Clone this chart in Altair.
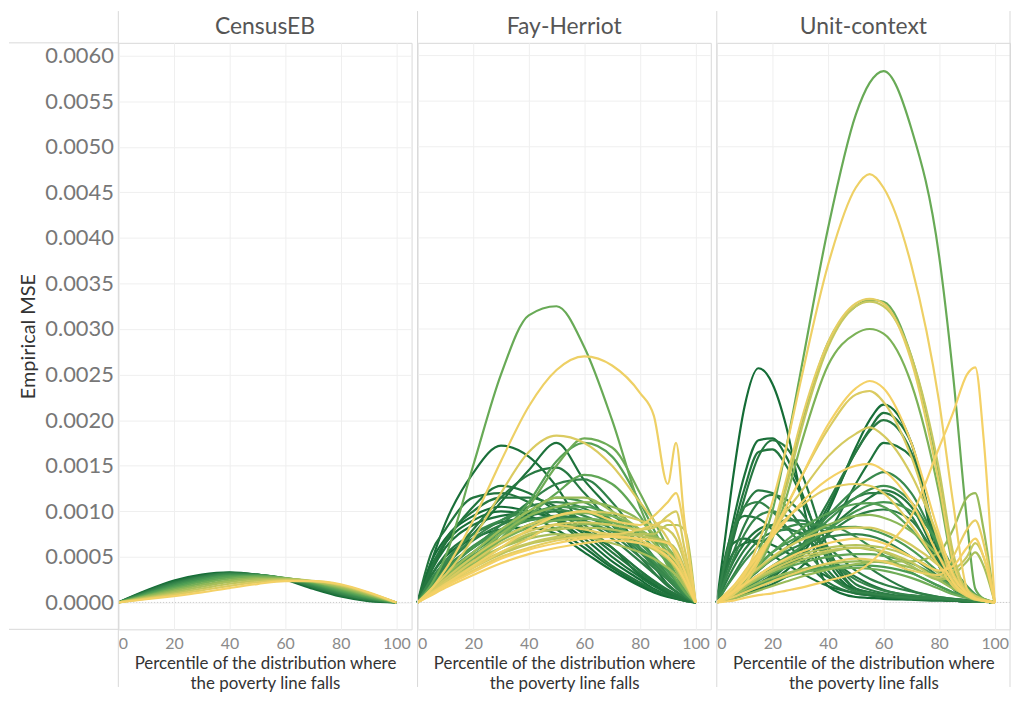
import altair as alt
import pandas as pd

PANELS = ["CensusEB", "Fay-Herriot", "Unit-context"]
X_TITLE = ["Percentile of the distribution where", "the poverty line falls"]
Y_TITLE = "Empirical MSE"
Y_TICKS = [0.0, 0.0005, 0.001, 0.0015, 0.002, 0.0025, 0.003, 0.0035, 0.004, 0.0045, 0.005, 0.0055, 0.006]
X_TICKS = [0, 20, 40, 60, 80, 100]

# ---- CensusEB (values in units of 1e-4) ----
X_CEB = [0, 10, 20, 30, 40, 50, 60, 70, 80, 90, 100]
CEB_SHADE = [1.00, 0.92, 0.83, 0.75, 0.67, 0.58, 0.50, 0.42, 0.33, 0.25, 0.17, 0.08, 0.00]
CEB_MSE = [
    [0, 1.30, 2.40, 3.05, 3.30, 3.05, 2.50, 1.50, 0.65, 0.15, 0],
    [0, 1.22, 2.28, 2.95, 3.25, 3.05, 2.55, 1.62, 0.78, 0.22, 0],
    [0, 1.14, 2.15, 2.85, 3.18, 3.05, 2.60, 1.74, 0.90, 0.30, 0],
    [0, 1.06, 2.02, 2.72, 3.10, 3.03, 2.63, 1.86, 1.02, 0.38, 0],
    [0, 0.98, 1.88, 2.58, 3.00, 3.00, 2.66, 1.97, 1.14, 0.46, 0],
    [0, 0.90, 1.74, 2.43, 2.88, 2.95, 2.68, 2.07, 1.26, 0.55, 0],
    [0, 0.82, 1.60, 2.27, 2.75, 2.88, 2.68, 2.15, 1.38, 0.64, 0],
    [0, 0.74, 1.46, 2.10, 2.60, 2.80, 2.67, 2.22, 1.50, 0.73, 0],
    [0, 0.66, 1.31, 1.92, 2.43, 2.68, 2.63, 2.28, 1.62, 0.82, 0],
    [0, 0.58, 1.16, 1.73, 2.25, 2.55, 2.58, 2.32, 1.73, 0.91, 0],
    [0, 0.50, 1.01, 1.53, 2.05, 2.40, 2.50, 2.35, 1.83, 1.00, 0],
    [0, 0.42, 0.85, 1.32, 1.82, 2.22, 2.42, 2.36, 1.92, 1.06, 0],
    [0, 0.35, 0.70, 1.10, 1.58, 2.02, 2.35, 2.35, 2.00, 1.12, 0],
]

# ---- Fay-Herriot (values in units of 1e-4) ----
X_FH = [0, 5, 10, 20, 30, 40, 50, 60, 70, 80, 85, 90, 93, 96, 100]
FH_SHADE = [1.00, 1.00, 0.97, 0.95, 0.95, 0.93, 0.92, 0.90, 0.88, 0.85, 0.82, 0.80,
            0.75, 0.70, 0.65, 0.60, 0.55, 0.50, 0.47, 0.45, 0.40, 0.35, 0.30, 0.25,
            0.20, 0.15, 0.10, 0.08, 0.05, 0.05, 0.02, 0.02, 0.00, 0.00,
            0.98, 0.90, 0.78, 0.68, 0.58, 0.42, 0.32, 0.18, 0.12]
FH_MSE = [
    [0, 4.5, 7.0, 9.5, 10.5, 10.0, 9.0, 7.0, 4.5, 2.5, 1.5, 0.8, 0.5, 0.3, 0],
    [0, 3.0, 5.0, 7.0, 8.0, 8.2, 7.5, 5.5, 3.5, 1.8, 1.1, 0.6, 0.4, 0.2, 0],
    [0, 4.5, 8.7, 14.2, 17.2, 16.0, 12.7, 8.0, 6.0, 3.0, 2.0, 1.0, 0.6, 0.3, 0],
    [0, 2.5, 4.5, 7.5, 11.0, 14.5, 17.5, 13.4, 10.0, 6.0, 4.0, 2.0, 1.2, 0.5, 0],
    [0, 3.5, 6.0, 8.5, 9.5, 9.8, 9.2, 7.5, 5.0, 2.8, 1.8, 1.0, 0.6, 0.3, 0],
    [0, 3.5, 6.5, 10.5, 12.8, 12.0, 10.0, 8.0, 6.0, 3.5, 2.3, 1.2, 0.7, 0.3, 0],
    [0, 5.5, 8.0, 11.5, 12.0, 11.0, 9.0, 6.5, 4.0, 2.2, 1.4, 0.8, 0.5, 0.2, 0],
    [0, 3.0, 5.2, 7.5, 8.8, 9.2, 9.0, 7.8, 5.5, 3.2, 2.2, 1.3, 0.8, 0.4, 0],
    [0, 2.5, 4.5, 8.0, 11.5, 14.0, 14.8, 12.0, 8.5, 5.0, 3.3, 1.8, 1.2, 0.6, 0],
    [0, 2.2, 4.0, 6.8, 8.5, 9.5, 10.0, 9.0, 7.0, 4.5, 3.2, 2.0, 1.2, 0.6, 0],
    [0, 2.0, 3.5, 6.0, 8.5, 11.0, 13.0, 13.5, 11.0, 7.0, 5.0, 3.0, 2.0, 1.0, 0],
    [0, 2.0, 3.8, 6.0, 7.8, 9.0, 9.5, 9.0, 7.5, 5.0, 3.8, 2.5, 1.6, 0.8, 0],
    [0, 2.6, 4.5, 7.5, 9.0, 10.0, 10.2, 9.5, 8.0, 5.5, 4.0, 2.6, 1.7, 0.8, 0],
    [0, 1.8, 3.2, 5.5, 7.5, 9.5, 10.5, 10.0, 8.5, 6.0, 4.5, 3.0, 2.0, 1.0, 0],
    [0, 1.8, 3.5, 6.0, 8.0, 10.0, 11.5, 11.0, 9.0, 6.5, 5.0, 3.5, 2.3, 1.2, 0],
    [0, 1.5, 3.0, 5.2, 7.0, 8.5, 9.0, 9.2, 8.5, 6.5, 5.0, 3.5, 2.4, 1.2, 0],
    [0, 1.0, 2.0, 4.5, 7.5, 11.0, 15.5, 17.5, 16.0, 11.0, 8.0, 5.0, 3.0, 1.5, 0],
    [0, 1.2, 2.4, 4.5, 7.0, 9.5, 12.0, 14.0, 13.0, 9.5, 7.0, 4.5, 3.0, 1.5, 0],
    [0, 2.0, 5.0, 15.0, 25.0, 31.5, 32.5, 28.0, 20.0, 10.5, 7.0, 4.0, 2.5, 1.2, 0],
    [0, 1.0, 2.0, 4.0, 7.0, 10.5, 15.0, 18.0, 17.0, 12.0, 9.0, 6.0, 4.0, 2.0, 0],
    [0, 1.4, 2.8, 5.0, 7.0, 8.5, 9.5, 9.8, 9.5, 8.0, 7.0, 5.5, 4.0, 2.0, 0],
    [0, 1.2, 2.5, 5.0, 7.5, 9.5, 10.5, 11.0, 10.5, 9.0, 7.5, 6.0, 4.5, 2.5, 0],
    [0, 1.5, 3.0, 5.5, 8.0, 10.0, 11.5, 11.5, 10.0, 8.0, 6.5, 5.0, 3.5, 1.8, 0],
    [0, 1.3, 2.5, 4.5, 6.0, 7.0, 7.5, 7.2, 6.5, 5.5, 4.8, 3.8, 3.0, 1.8, 0],
    [0, 1.0, 2.0, 4.0, 6.0, 7.5, 8.0, 8.2, 8.0, 7.5, 7.5, 8.5, 8.5, 8.0, 0],
    [0, 1.2, 2.2, 4.0, 5.5, 6.5, 7.2, 7.5, 7.2, 6.5, 5.8, 4.8, 3.8, 2.2, 0],
    [0, 1.2, 2.3, 4.5, 6.5, 7.8, 8.6, 8.8, 8.5, 8.0, 8.2, 9.5, 10.0, 6.0, 0],
    [0, 1.5, 3.0, 7.0, 12.0, 16.5, 18.3, 17.5, 15.0, 11.0, 9.0, 7.0, 5.0, 2.5, 0],
    [0, 1.0, 1.9, 3.5, 5.0, 6.0, 6.8, 7.2, 7.3, 6.8, 6.2, 5.5, 4.5, 3.0, 0],
    [0, 1.1, 2.0, 3.8, 5.5, 7.0, 8.5, 8.0, 7.5, 8.0, 8.5, 9.0, 8.0, 5.0, 0],
    [0, 1.5, 3.6, 9.0, 15.5, 21.5, 25.5, 27.0, 26.0, 23.0, 20.5, 13.0, 17.5, 9.0, 0],
    [0, 1.0, 2.0, 4.0, 6.0, 8.0, 9.5, 10.0, 9.0, 8.5, 9.5, 11.0, 12.0, 8.0, 0],
    [0, 0.8, 1.6, 3.0, 4.3, 5.3, 6.0, 6.5, 6.8, 6.5, 6.0, 5.0, 4.0, 2.5, 0],
    [0, 0.9, 1.8, 3.3, 4.8, 5.8, 6.5, 7.0, 7.2, 7.0, 6.8, 6.5, 5.5, 3.5, 0],
    [0, 4.0, 6.5, 9.0, 10.0, 9.5, 8.0, 6.0, 3.8, 2.0, 1.3, 0.7, 0.4, 0.2, 0],
    [0, 3.8, 6.8, 10.0, 11.5, 11.5, 10.5, 8.5, 6.0, 3.5, 2.4, 1.4, 0.9, 0.4, 0],
    [0, 2.4, 4.2, 7.0, 9.0, 10.5, 11.0, 10.3, 8.5, 5.8, 4.3, 2.8, 1.9, 0.9, 0],
    [0, 2.0, 3.6, 6.2, 8.0, 9.0, 9.3, 8.8, 7.8, 6.0, 4.8, 3.4, 2.4, 1.2, 0],
    [0, 1.6, 3.0, 5.5, 7.8, 9.5, 10.5, 10.5, 9.5, 7.5, 6.0, 4.3, 3.0, 1.5, 0],
    [0, 1.3, 2.6, 4.8, 6.8, 8.2, 9.0, 9.2, 8.8, 7.8, 7.0, 6.0, 4.8, 2.6, 0],
    [0, 1.1, 2.2, 4.2, 6.0, 7.3, 8.2, 8.6, 8.5, 7.8, 7.2, 6.5, 5.5, 3.2, 0],
    [0, 1.0, 2.0, 3.8, 5.3, 6.4, 7.0, 7.3, 7.5, 7.3, 7.0, 6.6, 5.8, 3.8, 0],
    [0, 1.3, 2.6, 5.0, 7.0, 8.5, 9.5, 10.0, 9.8, 9.0, 8.5, 8.0, 7.0, 4.5, 0],
]

# ---- Unit-context (values in units of 1e-4) ----
X_UC = [0, 3, 6, 10, 15, 20, 25, 30, 40, 50, 55, 60, 70, 80, 85, 90, 93, 96, 100]
UC_SHADE = [1.00, 0.98, 0.96, 0.95, 0.94, 0.93, 0.92, 0.90, 0.90, 0.88, 0.88, 0.85,
            0.85, 0.82, 0.80, 0.78, 0.75, 0.70, 0.65, 0.60, 0.55, 0.50, 0.47, 0.45,
            0.40, 0.35, 0.30, 0.30, 0.25, 0.20, 0.15, 0.10, 0.10, 0.08, 0.05, 0.05,
            0.04, 0.02, 0.00, 0.00, 0.00, 0.00,
            0.97, 0.93, 0.90, 0.86, 0.83, 0.80, 0.72, 0.62, 0.45, 0.15]
UC_MSE = [
    [0, 7, 14, 21.5, 25.7, 24, 19.3, 12.2, 1.8, 0.6, 0.5, 0.4, 0.3, 0.2, 0.2, 0.1, 0.1, 0.1, 0],
    [0, 0.3, 0.6, 1, 1.6, 2.4, 3.5, 5, 10, 17, 20, 21.7, 17.5, 4, 1.5, 0.7, 0.4, 0.2, 0],
    [0, 4.5, 9, 14, 17.8, 18, 16, 12.5, 4.5, 1.2, 0.8, 0.6, 0.4, 0.3, 0.2, 0.1, 0.1, 0.1, 0],
    [0, 4.5, 6.5, 7, 6.3, 5.2, 4.2, 3.3, 1.8, 1, 0.8, 0.7, 0.5, 0.4, 0.3, 0.2, 0.1, 0.1, 0],
    [0, 0.3, 0.5, 0.9, 1.4, 2, 2.8, 3.8, 7.5, 13, 15.5, 17.5, 16, 6, 2.2, 0.8, 0.4, 0.2, 0],
    [0, 0.3, 0.6, 1.1, 1.8, 2.7, 4, 5.5, 10.5, 16.5, 19, 20.8, 17.5, 5, 1.8, 0.8, 0.4, 0.2, 0],
    [0, 4, 8, 12.5, 16.5, 16.8, 15, 12, 5, 1.5, 1, 0.7, 0.4, 0.3, 0.2, 0.1, 0.1, 0.1, 0],
    [0, 3.5, 7, 11.5, 16, 17.8, 17, 14.5, 6, 1.5, 1.1, 0.8, 0.5, 0.3, 0.2, 0.1, 0.1, 0.1, 0],
    [0, 5, 8, 9.5, 9.2, 8, 6.5, 5, 2.2, 1, 0.8, 0.6, 0.4, 0.3, 0.2, 0.2, 0.1, 0.1, 0],
    [0, 0.4, 0.8, 1.3, 2, 3, 4.3, 6, 11, 16.5, 18.8, 20, 16.5, 5.5, 2.2, 1, 0.5, 0.3, 0],
    [0, 4, 7.5, 10.5, 12.3, 12, 10.5, 8.5, 3.5, 1.2, 0.9, 0.7, 0.4, 0.3, 0.2, 0.1, 0.1, 0.1, 0],
    [0, 3, 5.5, 8.5, 11, 11.8, 11.3, 10, 5.5, 2, 1.4, 1, 0.6, 0.4, 0.3, 0.2, 0.1, 0.1, 0],
    [0, 0.4, 0.8, 1.4, 2.1, 3, 4, 5, 7.5, 9.5, 10, 10.2, 9, 4.5, 2.2, 1, 0.5, 0.2, 0],
    [0, 1.5, 3, 5, 6.8, 7.7, 8, 7.7, 6, 3.5, 2.6, 2, 1.2, 0.6, 0.4, 0.3, 0.2, 0.1, 0],
    [0, 4.5, 8, 10.5, 11, 10, 8.3, 6.5, 3, 1.2, 1, 0.8, 0.5, 0.4, 0.3, 0.2, 0.1, 0.1, 0],
    [0, 2.5, 4.8, 7.5, 9.5, 10, 9.5, 8.5, 5, 2.5, 1.8, 1.3, 0.8, 0.5, 0.3, 0.2, 0.1, 0.1, 0],
    [0, 0.5, 1, 1.6, 2.4, 3.4, 4.6, 6, 9.5, 12.5, 13.6, 14.3, 12, 6, 3, 1.2, 0.6, 0.3, 0],
    [0, 0.5, 1, 1.7, 2.6, 3.6, 4.8, 6, 9, 11.5, 12.4, 12.8, 11, 6, 3.2, 1.4, 0.7, 0.3, 0],
    [0, 0.6, 1.2, 2, 3, 4, 5, 6, 8, 10, 10.7, 11, 10, 6.5, 3.8, 1.8, 0.9, 0.4, 0],
    [0, 0.4, 0.8, 1.3, 1.9, 2.5, 3, 3.4, 3.9, 4.1, 4.05, 3.9, 3.2, 1.8, 1.1, 0.6, 0.3, 0.2, 0],
    [0, 0.6, 1.3, 2.4, 4, 5.5, 6.8, 8, 9.8, 10.8, 10.9, 10.5, 8, 4, 2, 0.8, 0.4, 0.2, 0],
    [0, 0.5, 1, 1.7, 2.5, 3.2, 3.8, 4.3, 5, 5.3, 5.3, 5.1, 4.3, 2.7, 1.7, 0.9, 0.5, 0.2, 0],
    [0, 0.5, 1, 2.5, 5.5, 10, 17, 25, 41, 53.5, 57, 58.3, 52, 38, 25, 9, 1.5, 0.4, 0],
    [0, 0.4, 1, 2, 4.5, 7.5, 13, 19, 28.5, 32.5, 33.2, 33, 27, 14, 5, 1, 0.4, 0.2, 0],
    [0, 0.4, 1, 2, 4, 7, 11.5, 17, 26, 29.5, 30, 29.5, 24, 12, 4, 1, 0.4, 0.2, 0],
    [0, 0.7, 1.4, 2.4, 3.6, 4.8, 5.9, 6.9, 8.5, 9.5, 9.6, 9.3, 7.8, 5, 3, 1.5, 0.8, 0.4, 0],
    [0, 0.4, 0.8, 1.4, 2.1, 2.7, 3.2, 3.6, 4.2, 4.5, 4.5, 4.4, 3.8, 2.4, 1.5, 0.8, 0.4, 0.2, 0],
    [0, 0.2, 0.4, 0.8, 1.3, 1.8, 2.3, 2.8, 3.6, 4.2, 4.4, 4.5, 4.5, 5.5, 8, 11.5, 12, 8, 0],
    [0, 0.5, 1, 1.7, 2.6, 3.4, 4, 4.6, 5.5, 6, 5.8, 5.5, 4, 2.5, 3, 4.5, 5.5, 4, 0],
    [0, 0.6, 1.2, 2, 3, 3.9, 4.6, 5.2, 6, 6.3, 6.2, 6, 5, 3.2, 2, 1, 0.5, 0.3, 0],
    [0, 0.4, 0.9, 2, 4.5, 7.5, 12.5, 18.5, 28, 32.5, 33, 32.5, 27, 14.5, 5.5, 1.2, 0.5, 0.2, 0],
    [0, 0.8, 1.6, 3, 5.2, 7.5, 10, 12, 16, 18.5, 19.2, 18.3, 14, 7, 3.2, 1.1, 0.5, 0.2, 0],
    [0, 0.8, 1.5, 2.6, 3.8, 5, 6, 6.8, 7.8, 8.2, 8.2, 7.8, 6.3, 4, 2.5, 1.3, 0.7, 0.3, 0],
    [0, 0.6, 1.3, 2.7, 5, 7.8, 10.5, 13.5, 19, 22.8, 23.2, 22, 16, 6.5, 2.5, 0.8, 0.4, 0.2, 0],
    [0, 0.4, 0.9, 2, 4.5, 8, 13.5, 19.5, 28.5, 32.8, 33.3, 32.8, 26.5, 13, 4.5, 1, 0.4, 0.2, 0],
    [0, 0.9, 1.8, 3.4, 5.5, 7.5, 9.2, 10.5, 12.5, 13, 12.8, 12, 8.5, 4, 1.8, 0.7, 0.3, 0.2, 0],
    [0, 0.3, 0.6, 1.1, 1.7, 2.3, 2.9, 3.4, 4.3, 4.8, 4.7, 4.5, 3.5, 3, 5, 8, 9, 6.5, 0],
    [0, 0.5, 1.2, 3, 6.5, 11, 17, 24, 37, 45.5, 47, 45.5, 37, 22, 11, 1.5, 0.5, 0.2, 0],
    [0, 0.5, 1.2, 2.5, 4.8, 7.5, 10.5, 13.5, 19.5, 23.5, 24.3, 23.5, 17.5, 7.5, 3, 1, 0.4, 0.2, 0],
    [0, 0.8, 1.7, 3.2, 5.2, 7.2, 9, 10.8, 13.5, 15, 15.2, 14.5, 11, 5, 2.2, 0.8, 0.4, 0.2, 0],
    [0, 0.1, 0.2, 0.5, 0.8, 1, 1.3, 1.6, 2.4, 3.3, 4.3, 5.8, 9.5, 17, 20.8, 25, 25.8, 18, 0],
    [0, 0.6, 1.2, 2, 3, 4, 4.8, 5.5, 6.5, 7, 6.9, 6.5, 5, 3.5, 4, 6, 7, 5, 0],
    [0, 3.5, 5.5, 6.5, 6.8, 6.3, 5.5, 4.6, 2.8, 1.5, 1.1, 0.8, 0.5, 0.3, 0.2, 0.1, 0.1, 0.1, 0],
    [0, 2.5, 4.5, 6.5, 8, 8.5, 8.2, 7.5, 5, 2.8, 2, 1.4, 0.7, 0.4, 0.3, 0.2, 0.1, 0.1, 0],
    [0, 0.5, 1, 1.8, 2.8, 3.8, 4.8, 5.8, 8, 10.5, 11.5, 12.3, 10.5, 4.5, 2, 0.8, 0.4, 0.2, 0],
    [0, 2, 3.8, 5.8, 7.5, 8.5, 9, 9, 7.5, 5, 3.8, 2.8, 1.3, 0.6, 0.4, 0.2, 0.1, 0.1, 0],
    [0, 0.6, 1.2, 2.2, 3.5, 4.8, 6, 7.2, 9.5, 11.5, 12, 12, 9.5, 4, 2, 0.9, 0.5, 0.2, 0],
    [0, 0.7, 1.4, 2.4, 3.6, 4.7, 5.6, 6.3, 7.2, 7.5, 7.3, 6.8, 5, 2.8, 1.6, 0.8, 0.4, 0.2, 0],
    [0, 1.5, 2.8, 4.5, 6.2, 7.4, 8.2, 8.6, 8.5, 7.2, 6.2, 5.2, 3.3, 1.8, 1.1, 0.6, 0.3, 0.2, 0],
    [0, 0.8, 1.6, 2.8, 4.2, 5.5, 6.5, 7.3, 8.2, 8.3, 8, 7.5, 5.8, 3.3, 2, 1, 0.5, 0.3, 0],
    [0, 0.3, 0.6, 1.1, 1.7, 2.3, 2.8, 3.2, 3.7, 3.8, 3.7, 3.5, 2.7, 1.5, 0.9, 0.5, 0.3, 0.1, 0],
    [0, 0.5, 1, 1.8, 2.8, 3.6, 4.3, 4.9, 5.7, 6, 5.9, 5.6, 4.4, 2.7, 3.5, 5, 6.5, 5, 0],
]

SERIES = {
    "CensusEB": (X_CEB, CEB_SHADE, CEB_MSE),
    "Fay-Herriot": (X_FH, FH_SHADE, FH_MSE),
    "Unit-context": (X_UC, UC_SHADE, UC_MSE),
}

FONT = "Lato"
FRAME = "#d9d9d9"
GRID = "#efefef"
PANEL_W = 295
PANEL_H = 590
HEAD = 32          # header band above each panel
FOOT = 58          # axis band below each panel
X_DOMAIN = [0, 105.5]
Y_DOMAIN = [-0.000295, 0.00614]
Y_SCALE = alt.Scale(domain=Y_DOMAIN, nice=False, zero=False)


def panel_frame(name):
    xs, shades, lines = SERIES[name]
    order = sorted(range(len(lines)), key=lambda k: -shades[k])  # dark drawn first, gold on top
    rows = []
    for rank, i in enumerate(order):
        for x, v in zip(xs, lines[i]):
            rows.append({"line": f"{rank:03d}", "shade": shades[i], "x": x, "mse": v / 1e4})
    return pd.DataFrame(rows)


ONE = pd.DataFrame({"z": [0.0]})
GRID_DF = pd.DataFrame({"g": Y_TICKS})


def frame_rule(**enc):
    return alt.Chart(ONE).mark_rule(color=FRAME, strokeWidth=1, clip=False).encode(**enc)


def make_panel(name, idx):
    first = idx == 0
    last = idx == len(PANELS) - 1
    df = panel_frame(name)
    if first:
        y_axis = alt.Axis(values=Y_TICKS, format=".4f", title=Y_TITLE, labelFontSize=22,
                          labelColor="#777777", labelFont=FONT, labelPadding=5,
                          ticks=False, domain=False, titleFont=FONT, titleFontSize=20,
                          titleFontWeight="normal", titleColor="#333333", titlePadding=6,
                          gridColor=GRID)
    else:
        y_axis = None
    x_axis = alt.Axis(values=X_TICKS, title=X_TITLE, labelFontSize=16, labelColor="#8a8a8a",
                      labelFont=FONT, labelPadding=6, labelFlush=True, ticks=False,
                      domain=False, titleFont=FONT, titleFontSize=17,
                      titleFontWeight="normal", titleColor="#333333", titlePadding=4,
                      titleLineHeight=21, gridColor=GRID)
    lines = alt.Chart(df).mark_line(interpolate="monotone", strokeWidth=2.2).encode(
        x=alt.X("x:Q", scale=alt.Scale(domain=X_DOMAIN, nice=False, zero=False), axis=x_axis),
        y=alt.Y("mse:Q", scale=Y_SCALE, axis=y_axis),
        color=alt.Color("shade:Q", scale=alt.Scale(scheme="goldgreen", domain=[0, 1]), legend=None),
        detail="line:N",
    )
    zero = alt.Chart(ONE).mark_rule(color="#c8c8c8", strokeDash=[1, 2], strokeWidth=1).encode(
        y=alt.Y("z:Q", scale=Y_SCALE, axis=y_axis)
    )
    layers = []
    if not first:
        # horizontal gridlines at the tick values (panel 1 gets them from its axis)
        layers.append(alt.Chart(GRID_DF).mark_rule(color=GRID, strokeWidth=1).encode(
            y=alt.Y("g:Q", scale=Y_SCALE, axis=None)))
    layers += [zero, lines,
               frame_rule(x=alt.value(0), y=alt.value(-HEAD), y2=alt.value(PANEL_H + FOOT))]
    if first:
        layers += [frame_rule(x=alt.value(-110), x2=alt.value(0), y=alt.value(0)),
                   frame_rule(x=alt.value(-110), x2=alt.value(0), y=alt.value(PANEL_H))]
    if last:
        layers += [frame_rule(x=alt.value(PANEL_W), y=alt.value(-HEAD), y2=alt.value(PANEL_H + FOOT))]
    return alt.layer(*layers).properties(
        width=PANEL_W, height=PANEL_H,
        title=alt.TitleParams(name, font=FONT, fontSize=23, fontWeight="normal",
                              color="#555555", anchor="middle", offset=3 - HEAD),
    )


chart = alt.hconcat(*[make_panel(p, i) for i, p in enumerate(PANELS)], spacing=0).properties(
    padding={"top": 0, "left": 0, "right": 0, "bottom": 0}
).configure_view(stroke=FRAME, strokeWidth=1).configure_axis(gridWidth=1)

chart.save("out.html", embed_options={"renderer": "svg", "actions": False})
